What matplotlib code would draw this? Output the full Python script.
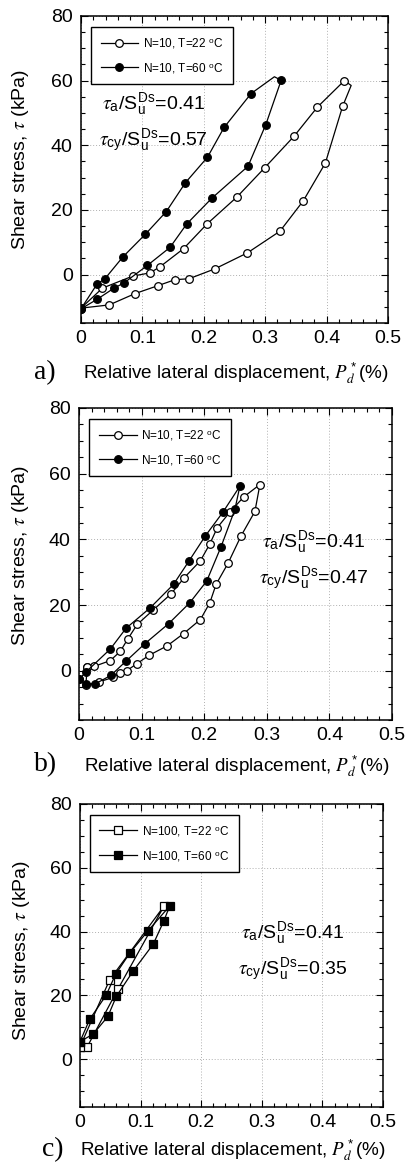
import matplotlib
matplotlib.use("Agg")
import matplotlib.pyplot as plt
from matplotlib.ticker import MultipleLocator, FuncFormatter

plt.rcParams['font.family'] = ['Liberation Sans', 'DejaVu Sans']
plt.rcParams['mathtext.fontset'] = 'custom'
plt.rcParams['mathtext.rm'] = 'Liberation Sans'
plt.rcParams['mathtext.sf'] = 'Liberation Sans'
plt.rcParams['mathtext.it'] = 'STIXGeneral:italic'
plt.rcParams['mathtext.bf'] = 'Liberation Sans:bold'

# panel a) N=10
a_open_x = [0.0, 0.035, 0.084, 0.112, 0.128, 0.167, 0.205, 0.254, 0.299, 0.347, 0.385, 0.429,
            0.440, 0.426, 0.398, 0.362, 0.324, 0.271, 0.218, 0.176, 0.153, 0.126, 0.088, 0.046, 0.0]
a_open_y = [-10.4, -4.2, -0.5, 0.5, 2.3, 8.0, 15.6, 24.0, 33.0, 42.8, 51.8, 60.0,
            58.5, 52.0, 34.5, 22.8, 13.4, 6.7, 1.75, -1.3, -1.6, -3.4, -5.9, -9.4, -10.4]
a_open_turn = [12]
a_fill_x = [0.0, 0.026, 0.053, 0.070, 0.108, 0.145, 0.172, 0.213, 0.272, 0.301, 0.326,
            0.315, 0.277, 0.233, 0.206, 0.170, 0.139, 0.105, 0.068, 0.039, 0.026, 0.0]
a_fill_y = [-10.6, -7.7, -4.3, -2.6, 2.8, 8.4, 15.6, 23.6, 33.5, 46.4, 60.1,
            61.2, 56.0, 45.5, 36.3, 28.4, 19.5, 12.5, 5.4, -1.3, -3.0, -10.6]
a_fill_turn = [11]

# panel b) N=10
b_open_x = [0.013, 0.024, 0.050, 0.066, 0.078, 0.093, 0.118, 0.147, 0.168, 0.194, 0.209, 0.221,
            0.241, 0.263, 0.289, 0.281, 0.259, 0.238, 0.219, 0.209, 0.194, 0.167, 0.141, 0.112,
            0.093, 0.076, 0.065, 0.055, 0.032, 0.011, 0.013]
b_open_y = [1.1, 1.3, 3.1, 5.9, 9.7, 14.1, 18.4, 23.4, 28.3, 33.5, 38.6, 43.6,
            48.3, 52.9, 56.7, 48.5, 41.1, 32.7, 26.3, 20.7, 15.6, 11.3, 7.6, 4.7,
            2.2, 0.0, -0.7, -2.0, -3.4, -4.4, 1.1]
b_fill_x = [0.0, 0.011, 0.025, 0.051, 0.075, 0.105, 0.143, 0.177, 0.204, 0.227, 0.249, 0.257,
            0.230, 0.202, 0.176, 0.151, 0.114, 0.075, 0.050, 0.011, 0.0]
b_fill_y = [-2.6, -4.1, -4.1, -1.4, 2.9, 8.2, 14.3, 20.7, 27.3, 37.8, 49.1, 56.2,
            48.3, 41.1, 33.5, 26.3, 19.2, 12.9, 6.6, -0.4, -2.6]

# panel c) N=100
c_open_x = [0.0, 0.012, 0.063, 0.139, 0.049, 0.0]
c_open_y = [3.9, 3.9, 22.1, 48.1, 24.9, 3.9]
c_fill_x = [0.0, 0.022, 0.046, 0.060, 0.088, 0.121, 0.138, 0.148, 0.112, 0.082, 0.059, 0.043, 0.016, 0.0]
c_fill_y = [5.5, 7.9, 13.4, 19.7, 27.7, 36.1, 43.2, 48.0, 40.2, 33.2, 26.7, 20.0, 12.5, 5.5]

labels_a = ["N=10, T=22 $^{\\mathrm{o}}$C", "N=10, T=60 $^{\\mathrm{o}}$C"]
labels_c = ["N=100, T=22 $^{\\mathrm{o}}$C", "N=100, T=60 $^{\\mathrm{o}}$C"]
ratios = [("0.41", "0.57"), ("0.41", "0.47"), ("0.41", "0.35")]

fig = plt.figure(figsize=(4.06, 11.67), dpi=100)
W, H = 406, 1167


def make_axes(l, t, r, b):
    return fig.add_axes([l / W, 1 - b / H, (r - l) / W, (b - t) / H])


def fmt_x(v, pos):
    return "0" if abs(v) < 1e-9 else f"{v:.1f}"


def style(ax):
    ax.set_xlim(0, 0.5)
    ax.set_ylim(-15, 80)
    ax.xaxis.set_major_locator(MultipleLocator(0.1))
    ax.xaxis.set_minor_locator(MultipleLocator(0.02))
    ax.yaxis.set_major_locator(MultipleLocator(20))
    ax.yaxis.set_minor_locator(MultipleLocator(5))
    ax.xaxis.set_major_formatter(FuncFormatter(fmt_x))
    ax.tick_params(which='both', direction='in', top=True, right=True, width=0.8)
    ax.tick_params(which='major', length=5, labelsize=14, pad=5)
    ax.tick_params(axis='y', which='major', pad=6)
    ax.tick_params(which='minor', length=3)
    ax.grid(True, which='major', linestyle=(0, (1, 2)), color='#b0b0b0', linewidth=0.7)
    ax.set_axisbelow(True)
    for s in ax.spines.values():
        s.set_linewidth(1.1)


def no_turn(n, turn):
    return [i for i in range(n) if i not in turn]


def finish(ax, letter, ratio, txy, ylab_xy, fig_letter_xy, xlab_y):
    leg = ax.legend(loc='upper left', bbox_to_anchor=(0.033, 0.965), borderaxespad=0,
                    fontsize=8.5, frameon=True, fancybox=False, framealpha=1,
                    edgecolor='black', handlelength=3.2, borderpad=0.8, labelspacing=0.9,
                    handletextpad=0.4)
    leg.get_frame().set_linewidth(1.0)
    ax.text(txy[0], txy[1], r"$\tau_{\mathrm{a}}/\mathrm{S}_{\mathrm{u}}^{\mathrm{Ds}}$=" + ratio[0],
            fontsize=14)
    ax.text(txy[0] - 0.005, txy[1] - 11, r"$\tau_{\mathrm{cy}}/\mathrm{S}_{\mathrm{u}}^{\mathrm{Ds}}$=" + ratio[1],
            fontsize=14)
    ax.set_ylabel(r"Shear stress, $\tau$ (kPa)", fontsize=14)
    ax.yaxis.set_label_coords(*ylab_xy)
    ax.set_xlabel(r"Relative lateral displacement, $P_d^*$(%)", fontsize=13.6)
    ax.xaxis.set_label_coords(0.503, xlab_y)
    ax.xaxis.label.set_va('center')
    fig.text(fig_letter_xy[0] / W, 1 - fig_letter_xy[1] / H, letter, family='Liberation Serif',
             fontsize=20, ha='center', va='center')


line_kw = dict(color='black', linewidth=0.9, markersize=5.5, markeredgewidth=0.9, markeredgecolor='black')

# a)
ax = make_axes(81, 16, 388, 323)
style(ax)
ax.plot(a_open_x, a_open_y, marker='o', markerfacecolor='white',
        markevery=no_turn(len(a_open_x), a_open_turn), label=labels_a[0], **line_kw)
ax.plot(a_fill_x, a_fill_y, marker='o', markerfacecolor='black',
        markevery=no_turn(len(a_fill_x), a_fill_turn), label=labels_a[1], **line_kw)
finish(ax, "a)", ratios[0], (0.034, 51), (-0.163, 0.534), (45, 373), -0.163)

# b)
ax = make_axes(79, 408, 392, 720)
style(ax)
ax.plot(b_open_x, b_open_y, marker='o', markerfacecolor='white', label=labels_a[0], **line_kw)
ax.plot(b_fill_x, b_fill_y, marker='o', markerfacecolor='black', label=labels_a[1], **line_kw)
finish(ax, "b)", ratios[1], (0.292, 37.5), (-0.153, 0.529), (46, 765), -0.146)

# c)
ax = make_axes(80, 804, 383, 1107)
style(ax)
ax.plot(c_open_x, c_open_y, marker='s', markerfacecolor='white', label=labels_c[0], **line_kw)
ax.plot(c_fill_x, c_fill_y, marker='s', markerfacecolor='black', label=labels_c[1], **line_kw)
finish(ax, "c)", ratios[2], (0.266, 37.7), (-0.158, 0.518), (53, 1150), -0.142)

fig.savefig("out.png", dpi=100)
plt.close(fig)
